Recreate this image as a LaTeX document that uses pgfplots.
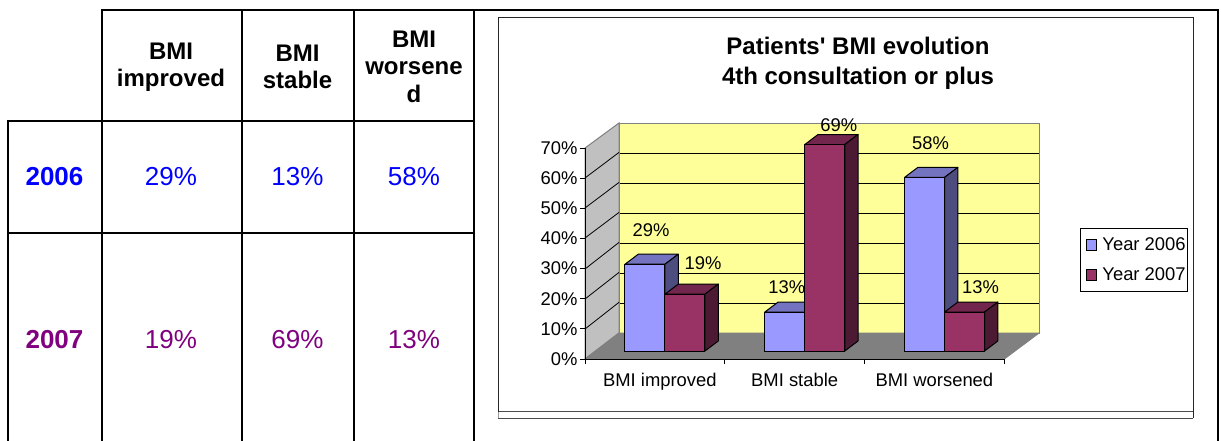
\documentclass[border=0pt]{standalone}
\usepackage{fontspec}
\setmainfont{Liberation Sans}
\newfontfamily\plainquote{Liberation Sans}
\usepackage{pgfplots}
\pgfplotsset{compat=1.18}
\definecolor{blue06}{HTML}{9999FF}
\definecolor{blue06top}{HTML}{7373BF}
\definecolor{blue06side}{HTML}{4D4D80}
\definecolor{red07}{HTML}{993366}
\definecolor{red07top}{HTML}{73264D}
\definecolor{red07side}{HTML}{4D1A33}
\definecolor{wallyellow}{HTML}{FFFF99}
\definecolor{wallgray}{HTML}{C0C0C0}
\definecolor{floorgray}{HTML}{808080}
\definecolor{tblblue}{HTML}{0000FF}
\definecolor{tblpurple}{HTML}{800080}

% top and side of a bar: category, value, horizontal shift of the bar, colours
\newcommand{\barbox}[5]{%
  \draw[black,line width=1pt,line join=round,fill=#4]
    ([xshift=#3pt]axis cs:#1,#2) -- ([xshift=#3pt+13.3pt,yshift=10pt]axis cs:#1,#2)
    -- ([xshift=#3pt+53.3pt,yshift=10pt]axis cs:#1,#2) -- ([xshift=#3pt+40pt]axis cs:#1,#2) -- cycle;
  \draw[black,line width=1pt,line join=round,fill=#5]
    ([xshift=#3pt+40pt]axis cs:#1,#2) -- ([xshift=#3pt+53.3pt,yshift=10pt]axis cs:#1,#2)
    -- ([xshift=#3pt+53.3pt,yshift=10pt]axis cs:#1,0) -- ([xshift=#3pt+40pt]axis cs:#1,0) -- cycle;
}
\newcommand{\barlabel}[4]{\node[font=\fontsize{18.4}{20}\selectfont,inner sep=0pt] at ([xshift=#3pt,yshift=#4pt]axis cs:#1,#2) {#2\%};}
\newcommand{\tbl}[4]{\node[font=\fontsize{#3}{#3}\selectfont,text=#4,align=center,inner sep=0pt] at (#1) {#2};}

\begin{document}
\begin{tikzpicture}[x=1pt,y=-1pt]
\path[use as bounding box,fill=white] (0,0) rectangle (1221,441);

% table
\begin{scope}[line width=1.8pt,black]
  \draw (102,441) -- (102,10) -- (1218,10) -- (1218,441);
  \draw (242,10) -- (242,441);
  \draw (354,10) -- (354,441);
  \draw (474,10) -- (474,441);
  \draw (8,441) -- (8,121) -- (474,121);
  \draw (8,233) -- (474,233);
\end{scope}
\def\hdr{\fontsize{24}{27.5}\selectfont\bfseries}
\node[font=\hdr,align=center,inner sep=0pt] at (171,67) {BMI\\improved};
\node[font=\hdr,align=center,inner sep=0pt] at (297.5,67) {BMI\\stable};
\node[font=\hdr,align=center,inner sep=0pt] at (414,66.5) {BMI\\worsene\\d};
\tbl{54.5,177}{\bfseries 2006}{26}{tblblue}
\tbl{171,177}{29\%}{26}{tblblue}
\tbl{297.5,177}{13\%}{26}{tblblue}
\tbl{414,177}{58\%}{26}{tblblue}
\tbl{54.5,340}{\bfseries 2007}{26}{tblpurple}
\tbl{171,340}{19\%}{26}{tblpurple}
\tbl{297.5,340}{69\%}{26}{tblpurple}
\tbl{414,340}{13\%}{26}{tblpurple}

% chart frame
\draw[black!70,line width=1pt] (498,418) -- (1193,418);
\draw[black!70,line width=1pt] (498,411.5) -- (1193,411.5);
\draw[black!85,line width=1pt] (498,412) -- (498,18) -- (1193,18) -- (1193,418);
\draw[black!40,line width=0.6pt] (498,412) -- (498,418);
\node[font=\fontsize{24}{30}\selectfont\plainquote\bfseries,align=center,inner sep=0pt] at (858,63) {Patients' BMI evolution\\4th consultation or plus};

% back wall
\begin{axis}[
  at={(619pt,-333pt)},anchor=south west,scale only axis,
  width=420pt,height=210pt,
  xmin=0,xmax=1,ymin=0,ymax=70,
  xtick=\empty,ytick={10,20,30,40,50,60},yticklabels={},
  major tick length=0pt,ymajorgrids,
  grid style={black,line width=0.8pt},
  axis line style={floorgray,line width=1pt},
  axis background/.style={fill=wallyellow},
]
\end{axis}
% side wall and floor
\draw[floorgray,line width=1pt,fill=wallgray] (585,359) -- (619,333) -- (619,123) -- (585,148) -- cycle;
\draw[floorgray,line width=1pt,fill=floorgray] (585,359) -- (619,333) -- (1039,333) -- (1004.3,359) -- cycle;
\foreach \a/\b in {329/302.3,299/272.4,269/242.4,238/212.4,208/182.4,178/152.4}
  \draw[black,line width=0.8pt] (585,\a) -- (619,\b);

% front axis, with the ticks and labels
\begin{axis}[
  at={(585pt,-359pt)},anchor=south west,scale only axis,
  width=419.3pt,height=211pt,
  xmin=-0.5,xmax=2.5,ymin=0,ymax=70,
  axis x line=bottom,axis y line=left,
  axis line style={black,line width=0.8pt,-},
  tick style={black,line width=0.8pt},
  xtick={-0.5,0.5,1.5,2.5},xticklabels={},
  extra x ticks={0,1,2},
  extra x tick labels={\hspace*{10pt}BMI improved,BMI stable,BMI worsened},
  extra x tick style={major tick length=0pt,
    xticklabel style={yshift=-11pt}},
  ytick={0,10,...,70},yticklabels={0\%,10\%,20\%,30\%,40\%,50\%,60\%,70\%},
  ticklabel style={font=\fontsize{18.4}{20}\selectfont},
  tick align=outside,major tick length=5pt,
  yticklabel style={xshift=1pt},
]
\end{axis}

% bars
\begin{axis}[
  at={(595.1pt,-351pt)},anchor=south west,scale only axis,
  width=419.3pt,height=209.5pt,
  xmin=-0.5,xmax=2.5,ymin=0,ymax=70,
  axis lines=none,clip=false,
  ybar=0pt,bar width=40pt,
  legend style={at={(1.1565,0.587)},anchor=north west,draw=black,line width=0.8pt,
    font=\fontsize{18.4}{20}\selectfont,inner xsep=0pt,inner ysep=7pt,
    row sep=12pt,cells={anchor=west}},
  legend image code/.code={\draw[draw=black,line width=1pt,#1] (0pt,-5.5pt) rectangle (10.5pt,5.5pt);
    \path (-5.5pt,0pt) (13.5pt,0pt);},
]
\barbox{0}{29}{-40}{blue06top}{blue06side}
\barbox{1}{13}{-40}{blue06top}{blue06side}
\barbox{2}{58}{-40}{blue06top}{blue06side}
\addplot[draw=black,line width=1pt,fill=blue06] coordinates {(0,29) (1,13) (2,58)};
\barbox{0}{19}{0}{red07top}{red07side}
\barbox{1}{69}{0}{red07top}{red07side}
\barbox{2}{13}{0}{red07top}{red07side}
\addplot[draw=black,line width=1pt,fill=red07] coordinates {(0,19) (1,69) (2,13)};
\legend{Year 2006,Year 2007}
\barlabel{0}{29}{-14}{33.6}
\barlabel{0}{19}{38}{31.4}
\barlabel{1}{13}{-18}{24.6}
\barlabel{1}{69}{34}{19.5}
\barlabel{2}{58}{-14}{34.2}
\barlabel{2}{13}{36}{24.6}
\end{axis}
\end{tikzpicture}
\end{document}
